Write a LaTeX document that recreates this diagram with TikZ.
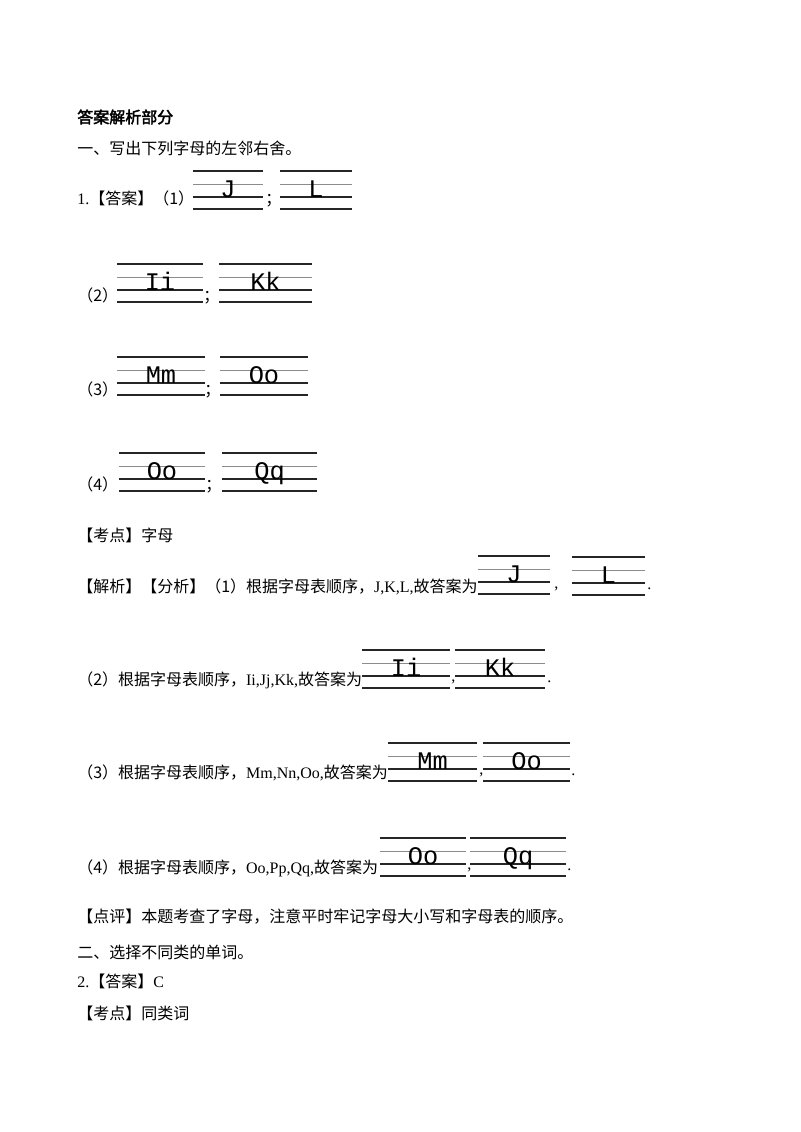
\documentclass[tikz,border=0pt]{standalone}
\usepackage{fontspec}
\setmainfont{Liberation Serif}
\newfontfamily\cjk{Noto Sans CJK SC}
\newfontfamily\cjkb{Noto Sans CJK SC}[FakeBold=2.5]
\newfontfamily\ltr{Liberation Mono}
\begin{document}
\begin{tikzpicture}[x=0.75pt,y=-0.75pt,
  txt/.style={anchor=west,inner sep=0pt,font=\fontsize{12pt}{14pt}\selectfont},
  dark/.style={line width=0.9pt,black!85},
  light/.style={line width=0.5pt,black!45},
  lt/.style={anchor=base,inner sep=0pt,font=\ltr\fontsize{19pt}{20pt}\selectfont}]
\useasboundingbox (0,0) rectangle (800,1132);
\newcommand\grid[5]{% name, x, ytop, w, text
  \draw[dark] (#2,#3) -- ++(#4,0);
  \draw[light] (#2,#3+13) -- ++(#4,0);
  \draw[dark] (#2,#3+26) -- ++(#4,0);
  \draw[dark] (#2,#3+38) -- ++(#4,0);
  \node[lt] (#1) at (#2+#4/2,#3+26) {#5};}
\node[txt] (h) at (77,117) {\cjkb 答案解析部分};
\node[txt] (s1) at (77,148) {\cjk 一、写出下列字母的左邻右舍。};
\node[txt] (a1) at (77,198) {1.\cjk【答案】（1）};
\grid{g11}{193}{171}{70}{J}
\node[txt] (c11) at (265,201) {\cjk ；};
\grid{g12}{280}{171}{72}{L}
\node[txt] (a2) at (77,295) {\cjk （2）};
\grid{g21}{117}{264}{86}{Ii}
\node[txt] (c21) at (203,298) {\cjk ；};
\grid{g22}{219}{264}{93}{Kk}
\node[txt] (a3) at (77,389) {\cjk （3）};
\grid{g31}{117}{357}{88}{Mm}
\node[txt] (c31) at (204,392) {\cjk ；};
\grid{g32}{220}{357}{88}{Oo}
\node[txt] (a4) at (77,484) {\cjk （4）};
\grid{g41}{119}{453}{86}{Oo}
\node[txt] (c41) at (205,487) {\cjk ；};
\grid{g42}{222}{453}{95}{Qq}
\node[txt] (k1) at (77,535) {\cjk【考点】字母};
\node[txt] (p1) at (77,587) {\cjk【解析】【分析】（1）根据字母表顺序，{\rmfamily J,K,L,}故答案为};
\grid{b11}{478}{556}{72}{J}
\node[txt] (d11) at (554,589) {,};
\grid{b12}{572}{557}{73}{L}
\node[txt] (e11) at (647,589) {.};
\node[txt] (p2) at (77,680) {\cjk （2）根据字母表顺序，{\rmfamily Ii,Jj,Kk,}故答案为};
\grid{b21}{362}{650}{88}{Ii}
\node[txt] (d21) at (451,682) {,};
\grid{b22}{455}{650}{90}{Kk}
\node[txt] (e21) at (547,682) {.};
\node[txt] (p3) at (77,773) {\cjk （3）根据字母表顺序，{\rmfamily Mm,Nn,Oo,}故答案为};
\grid{b31}{388}{743}{89}{Mm}
\node[txt] (d31) at (479,775) {,};
\grid{b32}{483}{743}{87}{Oo}
\node[txt] (e31) at (571,775) {.};
\node[txt] (p4) at (77,868) {\cjk （4）根据字母表顺序，{\rmfamily Oo,Pp,Qq,}故答案为};
\grid{b41}{380}{838}{86}{Oo}
\node[txt] (d41) at (467,870) {,};
\grid{b42}{470}{838}{96}{Qq}
\node[txt] (e41) at (567,870) {.};
\node[txt] (r1) at (77,917) {\cjk【点评】本题考查了字母，注意平时牢记字母大小写和字母表的顺序。};
\node[txt] (s2) at (77,952) {\cjk 二、选择不同类的单词。};
\node[txt] (a5) at (77,981) {2.\cjk【答案】{\rmfamily C}};
\node[txt] (k2) at (77,1013) {\cjk【考点】同类词};
\end{tikzpicture}
\end{document}
